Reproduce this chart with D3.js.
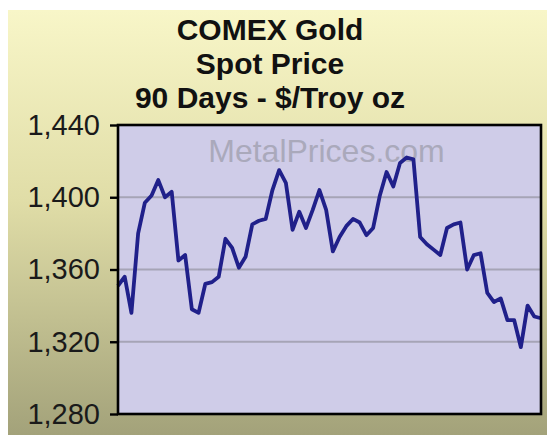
<!DOCTYPE html>
<html>
<head>
<meta charset="utf-8">
<script src="https://cdn.jsdelivr.net/npm/d3@7"></script>
<style>
  body { margin: 0; background: #fff; }
  svg { display: block; }
</style>
</head>
<body>
<svg id="chart" width="547" height="435"></svg>
<script>
// data
const titleLines = ["COMEX Gold", "Spot Price", "90 Days - $/Troy oz"];
const yTicks     = [1280, 1320, 1360, 1400, 1440];
const gridValues = [1320, 1360, 1400];
const prices = [
  1351, 1356, 1336, 1380, 1397, 1401, 1409.5, 1400, 1403, 1365,
  1368, 1338, 1336, 1352, 1353, 1356, 1377, 1372, 1361, 1367,
  1385, 1387, 1388, 1404, 1415, 1408, 1382, 1392, 1383, 1393,
  1404, 1393, 1370, 1378, 1384, 1388, 1386, 1379, 1383, 1401,
  1414, 1406, 1419, 1422, 1421, 1378, 1374, 1371, 1368, 1383,
  1385, 1386, 1360, 1368, 1369, 1347, 1342, 1344, 1332, 1332,
  1317, 1340, 1334, 1333
];

const svg = d3.select("#chart");
const plot = { left: 118, top: 125, right: 541, bottom: 414 };
const font = "Liberation Sans, Arial, sans-serif";

// background gradient
const defs = svg.append("defs");
const grad = defs.append("linearGradient")
  .attr("id", "bg").attr("x1", 0).attr("y1", 0).attr("x2", 0).attr("y2", 1);
grad.append("stop").attr("offset", "0%").attr("stop-color", "#f8f6c8");
grad.append("stop").attr("offset", "45%").attr("stop-color", "#e0dda7");
grad.append("stop").attr("offset", "100%").attr("stop-color", "#a3a27a");

svg.append("rect")
  .attr("x", 8).attr("y", 10).attr("width", 539).attr("height", 425)
  .attr("fill", "url(#bg)");

const x = d3.scaleLinear()
  .domain([0, prices.length - 1])
  .range([plot.left, plot.right]);

const y = d3.scaleLinear()
  .domain([1280, 1440])
  .range([plot.bottom, plot.top]);

// plot area
svg.append("rect")
  .attr("x", plot.left).attr("y", plot.top)
  .attr("width", plot.right - plot.left)
  .attr("height", plot.bottom - plot.top)
  .attr("fill", "#cfcce8");

// grid
svg.append("g").selectAll("line")
  .data(gridValues).enter().append("line")
    .attr("x1", plot.left).attr("x2", plot.right)
    .attr("y1", d => y(d)).attr("y2", d => y(d))
    .attr("stroke", "#a6a4b6").attr("stroke-width", 2);

// watermark
svg.append("text")
  .attr("x", (plot.left + plot.right) / 2 - 3).attr("y", 162)
  .attr("text-anchor", "middle")
  .attr("font-family", font)
  .attr("font-size", 32)
  .attr("fill", "#aaa9bb")
  .text("MetalPrices.com");

// price line
const line = d3.line()
  .x((d, i) => x(i))
  .y(d => y(d));

svg.append("path")
  .datum(prices)
  .attr("fill", "none")
  .attr("stroke", "#20208a")
  .attr("stroke-width", 3.8)
  .attr("stroke-linejoin", "round")
  .attr("d", line);

// frame
svg.append("rect")
  .attr("x", plot.left).attr("y", plot.top)
  .attr("width", plot.right - plot.left)
  .attr("height", plot.bottom - plot.top)
  .attr("fill", "none")
  .attr("stroke", "#000").attr("stroke-width", 2.6);

// y axis
const yAxis = svg.append("g")
  .attr("transform", `translate(${plot.left},0)`)
  .call(d3.axisLeft(y)
    .tickValues(yTicks)
    .tickFormat(d3.format(","))
    .tickSize(8)
    .tickPadding(10));

yAxis.select(".domain").remove();
yAxis.selectAll(".tick line").attr("stroke", "#000").attr("stroke-width", 2.4);
yAxis.selectAll(".tick text")
  .attr("font-family", font)
  .attr("font-size", 29)
  .attr("fill", "#1a1a1a");

// title
svg.append("g").selectAll("text")
  .data(titleLines).enter().append("text")
    .attr("x", 270)
    .attr("y", (d, i) => 40 + i * 34)
    .attr("text-anchor", "middle")
    .attr("font-family", font)
    .attr("font-size", 30)
    .attr("font-weight", "bold")
    .attr("fill", "#111")
    .text(d => d);
</script>
</body>
</html>
